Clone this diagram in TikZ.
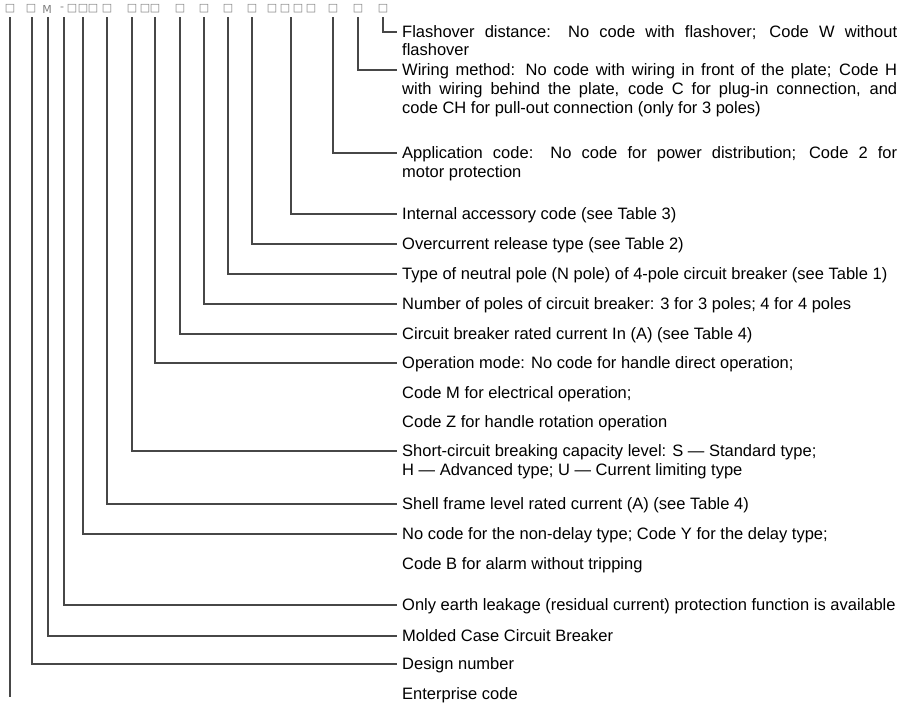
\documentclass[tikz,border=0pt]{standalone}
\usepackage{fontspec}
\setmainfont{Liberation Sans}
\newfontfamily\symfont{DejaVu Sans}
\usetikzlibrary{positioning}

\tikzset{
    lead/.style={draw=black!72, line width=1.1pt},
    desc/.style={anchor=west, inner xsep=5pt, inner ysep=0pt, text height=11.8pt, text depth=0pt,
        font=\fontsize{16.5}{19}\selectfont},
    glyph/.style={inner sep=0pt, text=black!50, font=\symfont\fontsize{11}{11}\selectfont}
}

\begin{document}
\begin{tikzpicture}[x=1pt, y=-1pt]
    \useasboundingbox (0,0) rectangle (899,702);
    % model code (top row)
    \foreach \x in {10,31,72,83,93,107,132,145,155,180,204,228,252,272,285,298,311,333,358,383} {
        \node[glyph] (g\x) at (\x,9) {□};
    }
    \node[glyph] (gm) at (47,9) {M};
    \node[glyph] (gd) at (62,9) {-};
    % leads with one text line each
    \foreach \n/\x/\y/\t in {
        design/32/664/{Design number},
        mccb/48/636/{Molded Case Circuit Breaker},
        leak/64/605/{Only earth leakage (residual current) protection function is available},
        delay/83/534/{No code for the non-delay type; Code Y for the delay type;},
        frame/107/504/{Shell frame level rated current (A) (see Table 4)},
        breaking/132/451/{Short-circuit breaking capacity level: S — Standard type;},
        opmode/155/363/{Operation mode: No code for handle direct operation;},
        rated/180/334/{Circuit breaker rated current In (A) (see Table 4)},
        poles/204/304/{Number of poles of circuit breaker: 3 for 3 poles; 4 for 4 poles},
        npole/228/274/{Type of neutral pole (N pole) of 4-pole circuit breaker (see Table 1)},
        release/252/244/{Overcurrent release type (see Table 2)},
        accessory/291/214/{Internal accessory code (see Table 3)},
        application/333/153/{\hbox to 495pt{Application code: No code for power distribution; Code 2 for}},
        wiring/358/70/{\hbox to 495pt{Wiring method: No code with wiring in front of the plate; Code H}},
        flashover/383/32/{\hbox to 495pt{Flashover distance: No code with flashover; Code W without}}} {
        \coordinate (\n top) at (\x,17);
        \node[desc] (\n) at (397,\y) {\t};
        \draw[lead] (\n top) |- (\n.west);
    }
    % enterprise code: lead ends below the text
    \coordinate (enterprise top) at (10,17);
    \coordinate (enterprise end) at (10,697);
    \node[desc] (enterprise) at (397,694) {Enterprise code};
    \draw[lead] (enterprise top) -- (enterprise end);
    % second lines
    \node[desc] (flashover2) at (397,50) {flashover};
    \node[desc] (wiring2) at (397,89) {\hbox to 495pt{with wiring behind the plate, code C for plug-in connection, and}};
    \node[desc] (wiring3) at (397,108) {code CH for pull-out connection (only for 3 poles)};
    \node[desc] (application2) at (397,172) {motor protection};
    \node[desc] (codem) at (397,393) {Code M for electrical operation;};
    \node[desc] (codez) at (397,422) {Code Z for handle rotation operation};
    \node[desc] (breaking2) at (397,470) {H — Advanced type; U — Current limiting type};
    \node[desc] (codeb) at (397,564) {Code B for alarm without tripping};
\end{tikzpicture}
\end{document}
